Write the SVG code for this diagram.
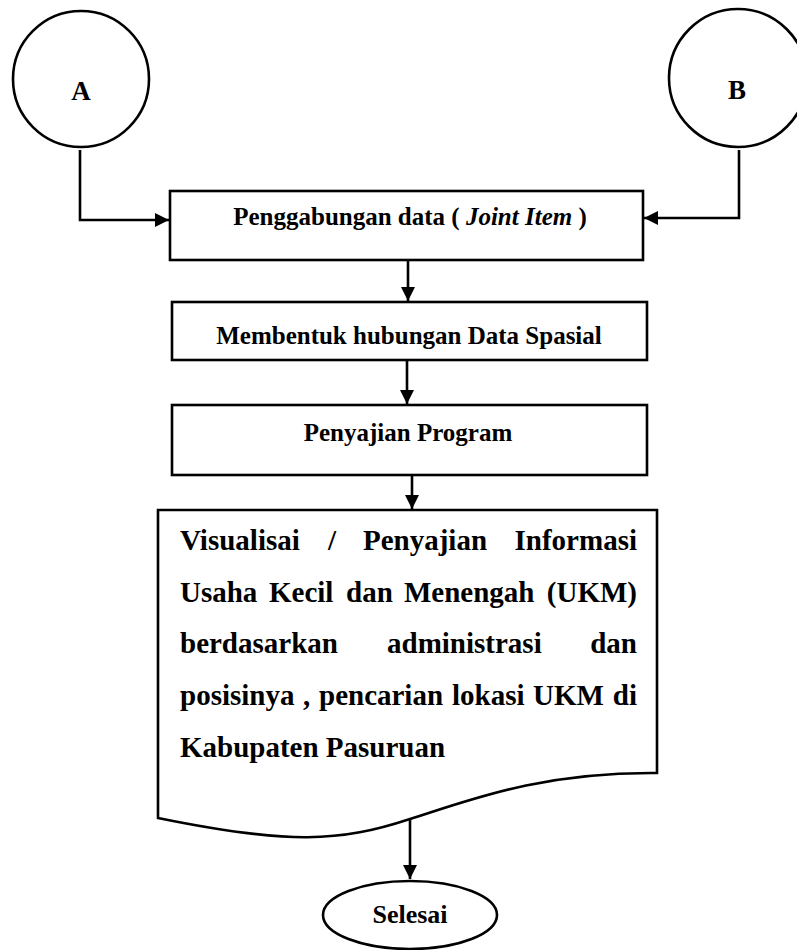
<svg xmlns="http://www.w3.org/2000/svg" width="797" height="950" viewBox="0 0 797 950">
<style>
.s{fill:none;stroke:#000;stroke-width:2.6}
.n{fill:#fff;stroke:#000;stroke-width:2.6}
.t{font-family:"Liberation Serif","Times New Roman",serif;font-weight:bold;fill:#000}
.b{font-size:25px}
.d{font-size:29px}
</style>
<defs>
<marker id="ah" markerUnits="userSpaceOnUse" markerWidth="16" markerHeight="16" viewBox="0 0 16 16" refX="15" refY="8" orient="auto">
<path d="M1,1 L15,8 L1,15 Z" fill="#000"/>
</marker>
</defs>
<rect width="797" height="950" fill="#fff"/>
<g id="connectors">
<path class="s" d="M80,150 V220 H169" marker-end="url(#ah)"/>
<path class="s" d="M739,150 V218 H644" marker-end="url(#ah)"/>
<path class="s" d="M408,260 V301" marker-end="url(#ah)"/>
<path class="s" d="M407,360 V404" marker-end="url(#ah)"/>
<path class="s" d="M412,475 V509" marker-end="url(#ah)"/>
<path class="s" d="M410,818 V879" marker-end="url(#ah)"/>
</g>
<g id="nodeA">
<circle class="n" cx="81" cy="79" r="68"/>
<text class="t" x="81" y="100" font-size="27" text-anchor="middle">A</text>
</g>
<g id="nodeB">
<circle class="n" cx="738" cy="78" r="69"/>
<text class="t" x="737" y="99" font-size="27" text-anchor="middle">B</text>
</g>
<g id="join">
<rect class="n" x="170" y="191" width="473" height="69"/>
<text class="t b" x="410" y="225" text-anchor="middle">Penggabungan data ( <tspan font-style="italic">Joint Item</tspan> )</text>
</g>
<g id="spasial">
<rect class="n" x="172" y="302" width="475" height="58"/>
<text class="t b" x="409" y="344" text-anchor="middle">Membentuk hubungan Data Spasial</text>
</g>
<g id="penyajian">
<rect class="n" x="172" y="405" width="475" height="70"/>
<text class="t b" x="408" y="441" text-anchor="middle">Penyajian Program</text>
</g>
<g id="visualisasi">
<path class="n" d="M158,510 H657 V773 C540,772 470,800 410,819 C340,842 290,845 158,818 Z"/>
<g class="t d">
<text x="180" y="550">Visualisai</text>
<text x="328" y="550">/</text>
<text x="363" y="550">Penyajian</text>
<text x="637" y="550" text-anchor="end">Informasi</text>
<text x="180" y="602">Usaha</text>
<text x="269" y="602">Kecil</text>
<text x="346" y="602">dan</text>
<text x="404" y="602">Menengah</text>
<text x="637" y="602" text-anchor="end">(UKM)</text>
<text x="180" y="653">berdasarkan</text>
<text x="387" y="653">administrasi</text>
<text x="637" y="653" text-anchor="end">dan</text>
<text x="180" y="705">posisinya</text>
<text x="303" y="705">,</text>
<text x="319" y="705">pencarian</text>
<text x="452" y="705">lokasi</text>
<text x="533" y="705">UKM</text>
<text x="637" y="705" text-anchor="end">di</text>
<text x="180" y="757">Kabupaten Pasuruan</text>
</g>
</g>
<g id="selesai">
<ellipse class="n" cx="410" cy="915" rx="87" ry="34"/>
<text class="t" x="410" y="923" font-size="26" text-anchor="middle">Selesai</text>
</g>
</svg>
